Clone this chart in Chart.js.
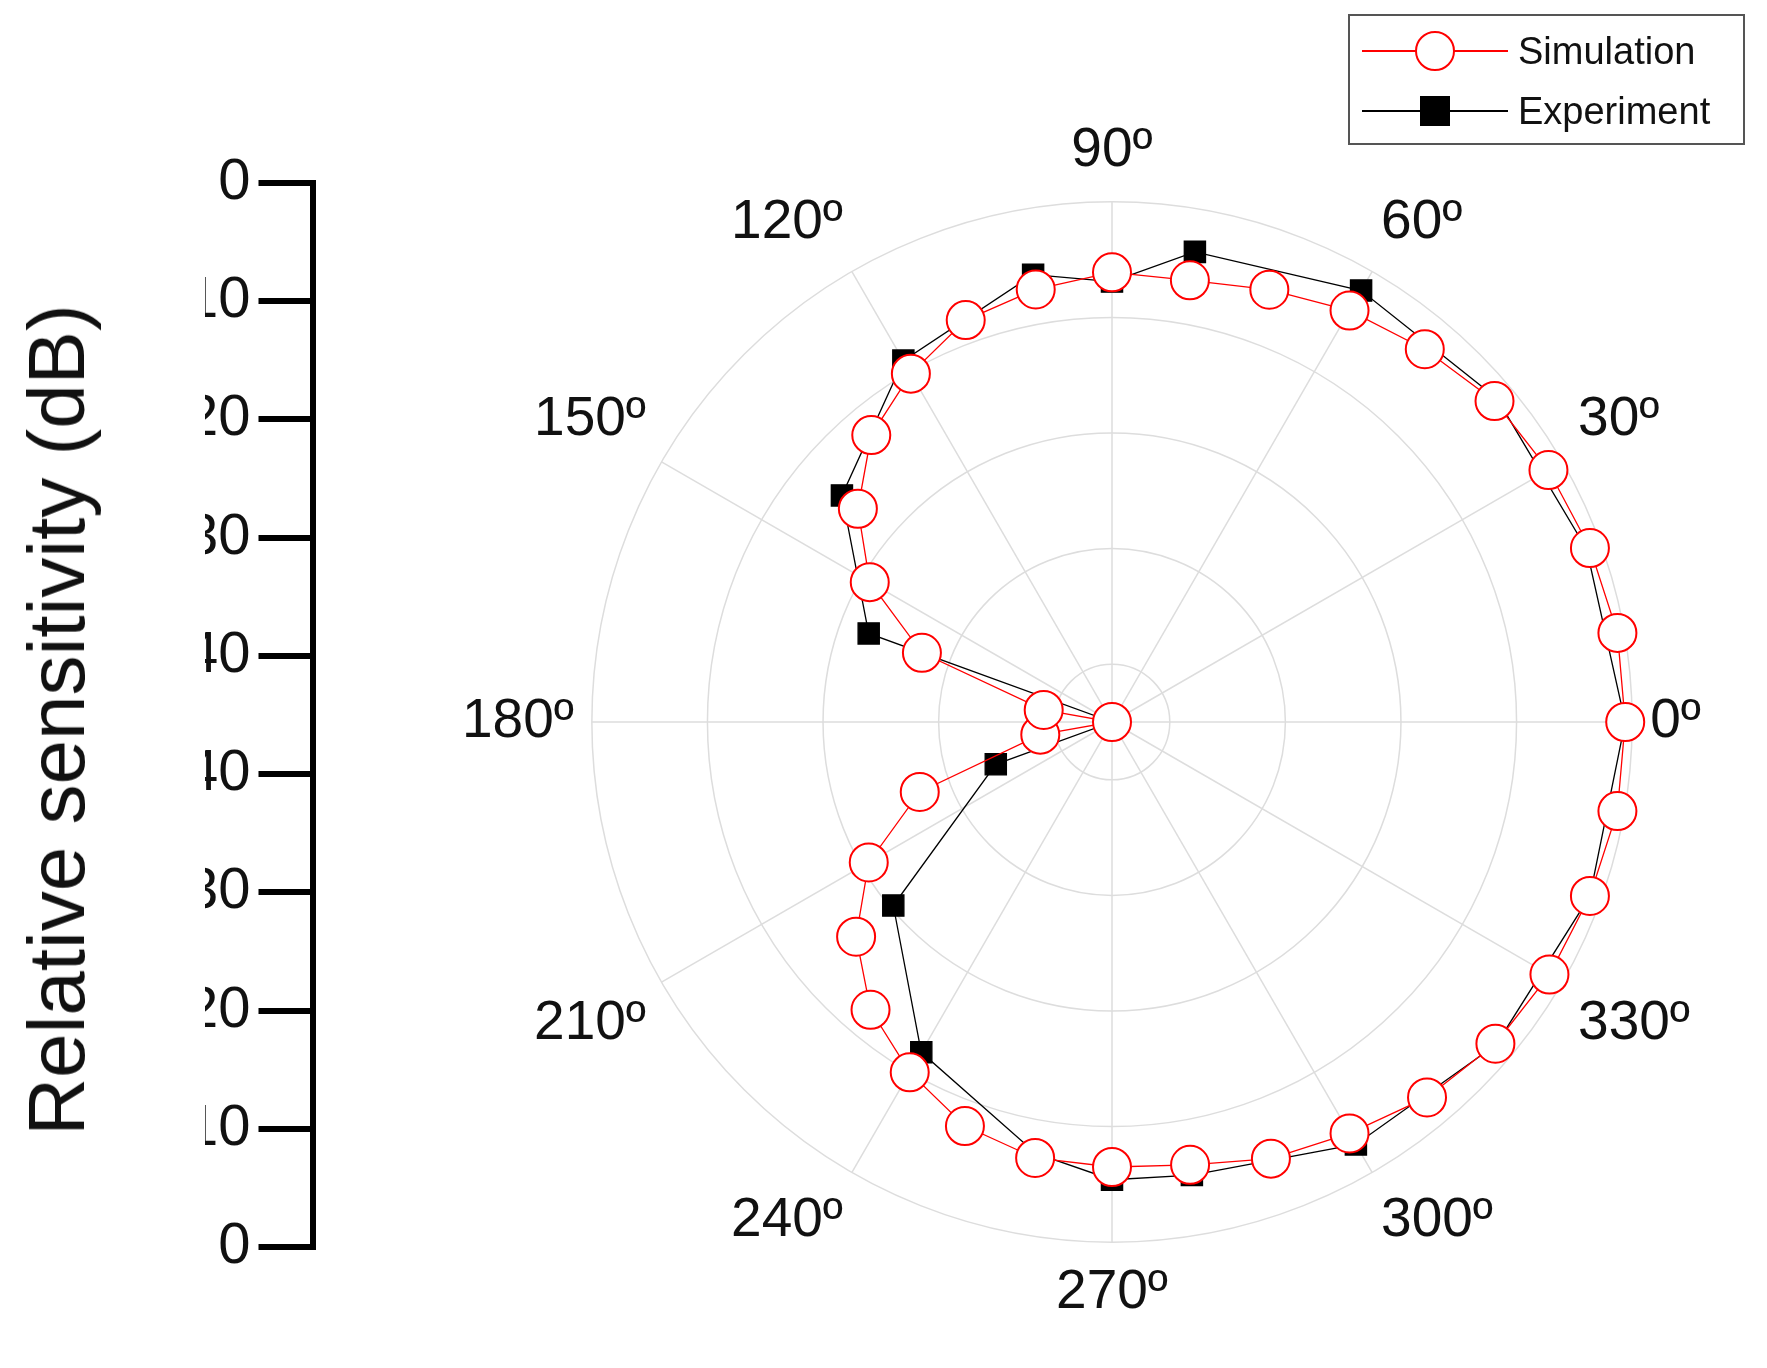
<!DOCTYPE html>
<html><head><meta charset="utf-8">
<script src="https://cdn.jsdelivr.net/npm/chart.js@4"></script>
<style>
body{margin:0;background:#fff;width:1767px;height:1368px;position:relative;overflow:hidden;font-family:Arial,"Liberation Sans",sans-serif}
#ax{position:absolute;left:0;top:0}
#rd{position:absolute;left:432px;top:72px}
#ttl{position:absolute;left:57px;top:720px;transform:translate(-50%,-50%) rotate(-90deg);white-space:nowrap;font-size:80px;color:#111}
#lg{position:absolute;left:1348px;top:14px;width:397px;height:131px;border:2px solid #555;box-sizing:border-box;font-size:38px;color:#111}
#lg div{position:absolute;left:10px;height:60px;display:flex;align-items:center}
#lg span{margin-left:8px}
</style></head><body>
<canvas id="ax" width="420" height="1368"></canvas>
<div id="ttl">Relative sensitivity (dB)</div>
<canvas id="rd" width="1300" height="1300"></canvas>
<div id="lg">
 <div style="top:5px"><svg width="150" height="60"><line x1="2" y1="30" x2="148" y2="30" stroke="red" stroke-width="2"/><circle cx="75" cy="30" r="19" fill="#fff" stroke="red" stroke-width="2"/></svg><span>Simulation</span></div>
 <div style="top:65px"><svg width="150" height="60"><line x1="2" y1="30" x2="148" y2="30" stroke="#000" stroke-width="2"/><rect x="60" y="15" width="30" height="30" fill="#000"/></svg><span>Experiment</span></div>
</div>
<script>
// angles in degrees (math convention, CCW from right)
const angles = [0,10,20,30,40,50,60,70,80,90,100,110,120,130,140,150,160,170,180,190,200,210,220,230,240,250,260,270,280,290,300,310,320,330,340,350];
const simulation = [-0.6,-0.6,-1.0,-1.4,-1.8,-2.9,-3.9,-5.2,-6.2,-6.1,-7.0,-8.0,-10.2,-12.6,-16.3,-20.8,-27.5,-39,-45,-38.7,-27.3,-20.7,-16.1,-12.5,-10,-7.8,-6.7,-6.5,-6.1,-4.8,-3.9,-2.6,-1.7,-1.3,-1.0,-0.6];
const experiment = [-0.6,null,-1.3,null,-1.5,null,-1.9,null,-3.7,-6.9,-5.7,null,-8.9,null,-14.5,null,-22.6,null,-45,null,-34.3,null,-20.3,null,-12.0,null,-7.1,-5.4,-5.2,null,-2.8,null,-1.6,null,-1.0,null];
const radialTicks = [-40,-30,-20,-10,0];
const leftTicks = [-45,-35,-25,-15,-5,5,15,25,35,45];

// reorder clockwise from top: 90,80,...,0,350,...,100
const order = [];
for (let i=0;i<36;i++){ const a=((90-10*i)%360+360)%360; order.push(angles.indexOf(a)); }
const labels = order.map(i=>angles[i]);
const simR = order.map(i=>simulation[i]);
const expR = order.map(i=>experiment[i]);

new Chart(document.getElementById('rd'),{
 type:'radar',
 data:{labels:labels.map(a=>a%30===0? a+'º':''),
  datasets:[
   {data:simR,borderColor:'red',borderWidth:1.3,backgroundColor:'transparent',pointStyle:'circle',pointRadius:19,pointBackgroundColor:'#fff',pointBorderColor:'red',pointBorderWidth:2,fill:false},
   {data:expR,spanGaps:true,borderColor:'#000',borderWidth:1.3,backgroundColor:'transparent',pointStyle:'rect',pointRadius:15,pointBackgroundColor:'#000',pointBorderColor:'#000',fill:false}
  ]},
 options:{responsive:false,animation:false,plugins:{legend:{display:false},tooltip:{enabled:false}},
  layout:{padding:0},
  scales:{r:{min:-45,max:0,
   afterBuildTicks:s=>{s.ticks=radialTicks.map(v=>({value:v}));},
   ticks:{display:false},
   grid:{color:'#ddd',lineWidth:1.5,circular:true},
   angleLines:{color:c=>labels[c.index]%30===0?'#ddd':'rgba(0,0,0,0)',lineWidth:1.5},
   pointLabels:{font:{size:55,family:'Arial, Liberation Sans'},color:'#111',padding:18}
  }}}
});

new Chart(document.getElementById('ax'),{
 type:'scatter',data:{datasets:[{data:[]}]},
 options:{responsive:false,animation:false,plugins:{legend:{display:false},tooltip:{enabled:false}},
  layout:{padding:{top:183,bottom:121,left:205,right:0}},
  scales:{x:{display:false},
   y:{min:-45,max:45,
    afterBuildTicks:s=>{s.ticks=leftTicks.map(v=>({value:v}));},
    ticks:{color:'#111',font:{size:58,family:'Arial, Liberation Sans'},padding:8,callback:v=>{const d=-(45-Math.abs(v));return d===0?'0':String(d);}},
    grid:{drawOnChartArea:false,color:'#000',lineWidth:6,tickLength:54},
    border:{color:'#000',width:6}
   }}}
});
</script>
</body></html>
